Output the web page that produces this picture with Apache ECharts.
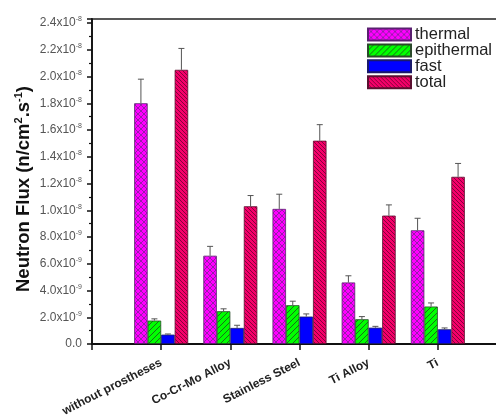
<!DOCTYPE html>
<html><head><meta charset="utf-8">
<script src="https://cdn.jsdelivr.net/npm/echarts@6/dist/echarts.min.js"></script>
<style>html,body{margin:0;padding:0;background:#fff}#c{width:496px;height:418px}</style>
</head><body><div id="c"></div>
<script>
// values in units of 1e-9 n/(cm^2.s)
const categories = ['without prostheses', 'Co-Cr-Mo Alloy', 'Stainless Steel', 'Ti Alloy', 'Ti'];
const seriesNames = ['thermal', 'epithermal', 'fast', 'total'];
const thermal = [18.0, 6.6, 10.1, 4.6, 8.5];
const thermalErr = [1.8, 0.7, 1.1, 0.5, 0.9];
const epithermal = [1.75, 2.45, 2.9, 1.85, 2.8];
const epithermalErr = [0.13, 0.18, 0.3, 0.2, 0.27];
const fast = [0.7, 1.2, 2.05, 1.22, 1.1];
const fastErr = [0.05, 0.2, 0.2, 0.1, 0.1];
const total = [20.5, 10.3, 15.2, 9.6, 12.5];
const totalErr = [1.6, 0.8, 1.2, 0.8, 1.0];
const yTicks = [0, 2, 4, 6, 8, 10, 12, 14, 16, 18, 20, 22, 24];
const yTitle = 'Neutron Flux (n/cm{sup|2}.s{sup|-1})';

function makePattern(bg, dirs, color, s, lw) {
  const c = document.createElement('canvas');
  c.width = s; c.height = s;
  const g = c.getContext('2d');
  g.fillStyle = bg; g.fillRect(0, 0, s, s);
  g.strokeStyle = color; g.lineWidth = lw;
  dirs.forEach(d => {
    for (let k = -1; k <= 1; k++) {
      g.beginPath();
      if (d === '/') { g.moveTo(k * s, s); g.lineTo(k * s + s, 0); }
      else { g.moveTo(k * s, 0); g.lineTo(k * s + s, s); }
      g.stroke();
    }
  });
  return { image: c, repeat: 'repeat' };
}
const fills = [
  makePattern('#ff00ff', ['/', '\\'], '#8a1fa0', 6, 0.9),
  makePattern('#00ff00', ['/'], '#1d5a1d', 6, 0.9),
  '#0000ff',
  makePattern('#f5006a', ['\\'], '#7a0035', 4, 0.9)
];
const borders = ['#5a2070', '#2a4a2a', '#1a1a6a', '#5a1030'];
const values = [thermal, epithermal, fast, total];
const errs = [thermalErr, epithermalErr, fastErr, totalErr];
const axisCats = [''].concat(categories, ['']);
const barW = 13.5;
const offsets = [-1.5 * barW, -0.5 * barW, 0.5 * barW, 1.5 * barW];

const series = [];
seriesNames.forEach((n, i) => {
  series.push({
    name: n, type: 'bar', barWidth: barW, barGap: '0%',
    data: [null].concat(values[i], [null]),
    itemStyle: { color: fills[i], borderColor: borders[i], borderWidth: 0.8 },
    z: 2
  });
});
seriesNames.forEach((n, i) => {
  series.push({
    type: 'custom', name: n + ' err', silent: true, z: 5,
    data: values[i].map((v, j) => [j + 1, v, errs[i][j]]),
    renderItem: function (params, api) {
      const x = api.value(0), v = api.value(1), e = api.value(2);
      const p0 = api.coord([x, v]);
      const p1 = api.coord([x, v + e]);
      const cx = p0[0] + offsets[i];
      return {
        type: 'group', children: [
          { type: 'line', shape: { x1: cx, y1: p0[1], x2: cx, y2: p1[1] }, style: { stroke: '#555', lineWidth: 1 } },
          { type: 'line', shape: { x1: cx - 3, y1: p1[1], x2: cx + 3, y2: p1[1] }, style: { stroke: '#555', lineWidth: 1 } }
        ]
      };
    }
  });
});

const chart = echarts.init(document.getElementById('c'), null, { renderer: 'canvas' });
chart.setOption({
  animation: false,
  backgroundColor: '#fff',
  grid: { left: 92, right: -11, top: 19, bottom: 74, show: true, borderColor: '#222', borderWidth: 1.5, backgroundColor: 'transparent', outerBoundsMode: 'none', containLabel: false },
  legend: {
    data: seriesNames, orient: 'vertical', left: 367, top: 26, padding: 0,
    itemWidth: 43, itemHeight: 12, itemGap: -1.1,
    icon: 'rect',
    textStyle: { fontFamily: 'Liberation Sans', fontSize: 16.5, color: '#222', padding: [0, 0, 0, -1] }
  },
  graphic: [{
    type: 'text', x: 24, y: 189, rotation: Math.PI / 2,
    style: {
      text: yTitle, align: 'center', verticalAlign: 'middle',
      font: 'bold 18.5px "Liberation Sans"', fill: '#111',
      rich: { sup: { fontSize: 11, fontWeight: 'bold', verticalAlign: 'top', padding: [0, 0, 10, 0], fontFamily: 'Liberation Sans', fill: '#111' } }
    }
  }],
  xAxis: {
    type: 'category', data: axisCats, boundaryGap: false,
    axisLine: { lineStyle: { color: '#111', width: 1.8 } },
    axisTick: { show: true, length: 6, lineStyle: { color: '#111', width: 1.5 } },
    axisLabel: { rotate: 27, margin: 18, interval: 0, fontFamily: 'Liberation Sans', fontSize: 12, fontWeight: 'bold', color: '#222' },
    splitLine: { show: false }
  },
  yAxis: {
    type: 'value', min: 0, max: 24.3, interval: 2,
    axisLine: { show: true, lineStyle: { color: '#111', width: 1.8 } },
    axisTick: { show: true, length: 5, lineStyle: { color: '#111', width: 1.5 } },
    minorTick: { show: true, splitNumber: 2, length: 3, lineStyle: { color: '#111', width: 1.2 } },
    splitLine: { show: false },
    axisLabel: {
      margin: 10, fontFamily: 'Liberation Sans', fontSize: 12, color: '#555',
      formatter: function (v) {
        if (yTicks.indexOf(v) < 0) return '';
        if (v === 0) return '0.0';
        if (v < 10) return v.toFixed(1) + 'x10{sup|-9}';
        return (v / 10).toFixed(1) + 'x10{sup|-8}';
      },
      rich: { sup: { fontSize: 7, verticalAlign: 'top', padding: [0, 0, 7, 0], color: '#555', fontFamily: 'Liberation Sans' } }
    }
  },
  series: series
});
</script></body></html>
